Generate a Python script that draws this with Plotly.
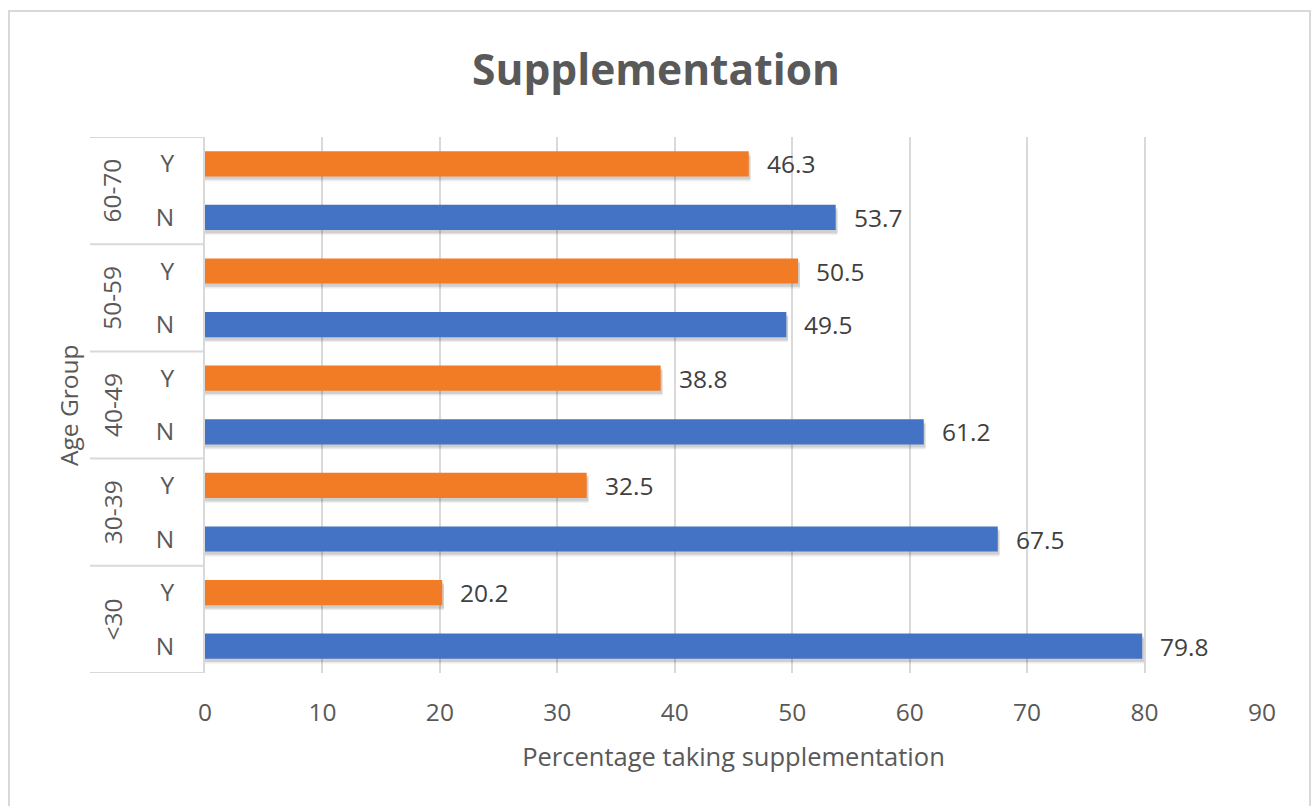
import plotly.graph_objects as go

# ---- data ----
age_groups = ["<30", "30-39", "40-49", "50-59", "60-70"]
answers = ["N", "Y"]
pct_no = [79.8, 67.5, 61.2, 49.5, 53.7]
pct_yes = [20.2, 32.5, 38.8, 50.5, 46.3]
x_ticks = [0, 10, 20, 30, 40, 50, 60, 70, 80, 90]

# ---- layout constants ----
W, H = 1312, 806
L, R, T, B = 205, 50, 137, 133
PW, PH = W - L - R, H - T - B
FONT = "Open Sans"
GRID = "#d9d9d9"
TXT = "#595959"
ORANGE = "#F27B26"
BLUE = "#4472C4"
BAR_W = 0.47
FS = 24.5


def px2paper_x(px):
    return (px - L) / PW


def px2paper_y(py):
    return (H - B - py) / PH


y_no = [2 * i for i in range(len(age_groups))]
y_yes = [2 * i + 1 for i in range(len(age_groups))]

fig = go.Figure()

# soft shadows
for off, alpha in ((0.09, 0.10), (0.06, 0.16)):
    for ys, vals in ((y_yes, pct_yes), (y_no, pct_no)):
        fig.add_trace(go.Bar(
            x=[v + 0.15 for v in vals], y=[y - off for y in ys], orientation="h",
            width=BAR_W, marker=dict(color=f"rgba(60,60,60,{alpha})", line=dict(width=0)),
            hoverinfo="skip", showlegend=False,
        ))

fig.add_trace(go.Bar(
    x=pct_yes, y=y_yes, orientation="h", width=BAR_W, name="Y",
    marker=dict(color=ORANGE, line=dict(width=0)), showlegend=False,
))
fig.add_trace(go.Bar(
    x=pct_no, y=y_no, orientation="h", width=BAR_W, name="N",
    marker=dict(color=BLUE, line=dict(width=0)), showlegend=False,
))

annotations = []
# data labels
for ys, vals in ((y_yes, pct_yes), (y_no, pct_no)):
    for y, v in zip(ys, vals):
        annotations.append(dict(
            x=v, y=y, xref="x", yref="y", text=f"{v:.1f}", showarrow=False,
            xanchor="left", yanchor="middle", xshift=16,
            font=dict(family=FONT, size=FS, color="#404040"),
        ))

shapes = []
# group labels + separators
for i, g in enumerate(age_groups):
    annotations.append(dict(
        x=px2paper_x(112), y=2 * i + 0.5, xref="paper", yref="y", text=g,
        textangle=-90, showarrow=False, xanchor="center", yanchor="middle",
        font=dict(family=FONT, size=FS, color=TXT),
    ))
for k in range(len(age_groups) + 1):
    yb = 2 * k - 0.5
    shapes.append(dict(
        type="line", xref="paper", yref="y", x0=px2paper_x(90), x1=0,
        y0=yb, y1=yb, line=dict(color=GRID, width=2),
    ))

annotations.append(dict(
    x=px2paper_x(68), y=0.5, xref="paper", yref="paper", text="Age Group",
    textangle=-90, showarrow=False, xanchor="center", yanchor="middle",
    font=dict(family=FONT, size=FS, color=TXT),
))

# outer chart border
shapes.append(dict(
    type="rect", xref="paper", yref="paper",
    x0=px2paper_x(9), x1=px2paper_x(1310), y0=px2paper_y(812), y1=px2paper_y(11),
    line=dict(color=GRID, width=2), fillcolor="rgba(0,0,0,0)", layer="below",
))

fig.update_layout(
    width=W, height=H,
    margin=dict(l=L, r=R, t=T, b=B),
    paper_bgcolor="white", plot_bgcolor="white",
    barmode="overlay",
    title=dict(
        text="<b>Supplementation</b>", x=0.5, xref="container", xanchor="center",
        y=1 - 70 / H, yref="container", yanchor="middle",
        font=dict(family=FONT, size=42.5, color=TXT),
    ),
    xaxis=dict(
        range=[0, 90], tickvals=x_ticks, showgrid=True, gridcolor=GRID,
        gridwidth=2, zeroline=False, showline=False, ticks="",
        tickfont=dict(family=FONT, size=FS, color=TXT),
        ticklabelstandoff=22,
        title=dict(text="Percentage taking supplementation", standoff=21,
                   font=dict(family=FONT, size=25.5, color=TXT)),
        fixedrange=True,
    ),
    yaxis=dict(
        range=[-0.5, 2 * len(age_groups) - 0.5],
        tickvals=y_no + y_yes,
        ticktext=[answers[0]] * len(y_no) + [answers[1]] * len(y_yes),
        showgrid=False, zeroline=False, showline=True, linecolor=GRID,
        linewidth=2, ticks="", ticklabelstandoff=24,
        tickfont=dict(family=FONT, size=FS, color=TXT),
        fixedrange=True,
    ),
    annotations=annotations,
    shapes=shapes,
)

fig.write_html("out.html")
